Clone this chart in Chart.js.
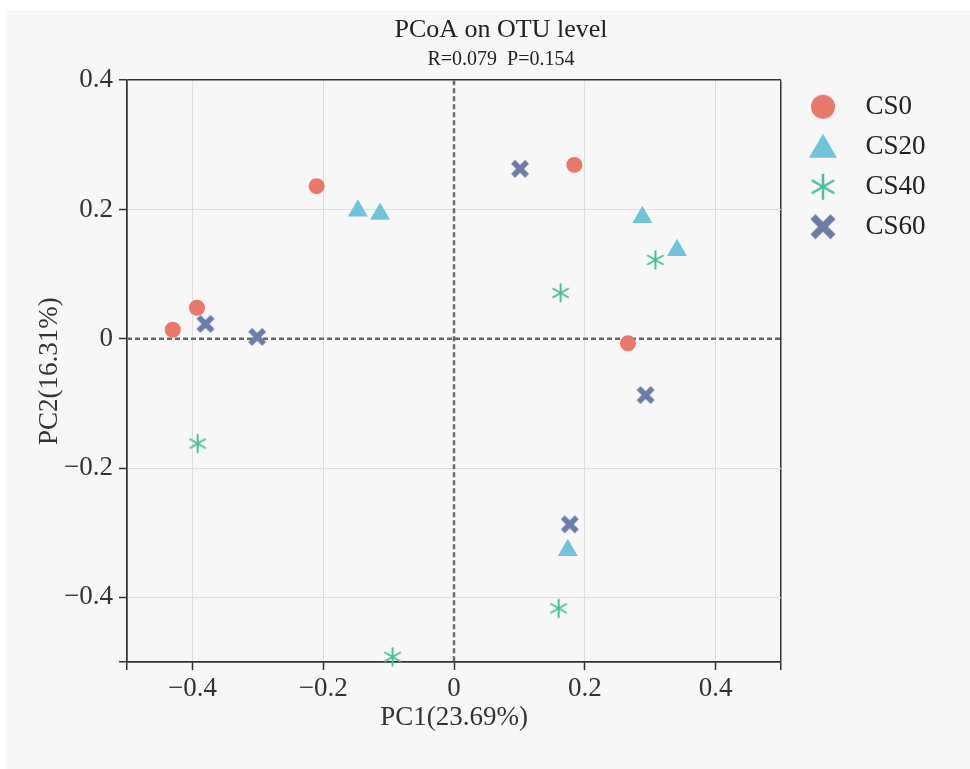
<!DOCTYPE html>
<html>
<head>
<meta charset="utf-8">
<script src="https://cdn.jsdelivr.net/npm/chart.js@4.4.1/dist/chart.umd.min.js"></script>
<style>
  html, body { margin: 0; padding: 0; background: #fff; }
  #panel { position: absolute; left: 6px; top: 10px; width: 964px; height: 759px; background: #f7f7f7; }
  #panel canvas { display: block; }
</style>
</head>
<body>
<div id="panel"><canvas id="pcoa" width="964" height="759"></canvas></div>
<script>
const grupos = ["CS0", "CS20", "CS40", "CS60"];
const colores = ["#E9776A", "#6FC4D8", "#4DBE9D", "#6B7CA6"];

const cs0X = [-0.430, -0.393, -0.210, 0.184, 0.266];
const cs0Y = [0.014, 0.048, 0.236, 0.269, -0.007];
const cs20X = [-0.147, -0.113, 0.288, 0.341, 0.174];
const cs20Y = [0.198, 0.193, 0.188, 0.137, -0.327];
const cs40X = [0.308, 0.163, -0.392, 0.160, -0.094];
const cs40Y = [0.122, 0.071, -0.162, -0.417, -0.492];
const cs60X = [-0.380, -0.301, 0.101, 0.293, 0.177];
const cs60Y = [0.023, 0.003, 0.263, -0.087, -0.287];

const ticksX = [-0.5, -0.4, -0.2, 0, 0.2, 0.4, 0.5];
const ticksY = [-0.5, -0.4, -0.2, 0, 0.2, 0.4];

const titulo = "PCoA on OTU level";
const subtitulo = "R=0.079  P=0.154";
const tituloX = "PC1(23.69%)";
const tituloY = "PC2(16.31%)";

const FUENTE = "'Liberation Serif', 'Times New Roman', serif";
const EJE = "#333";

function icono(size, dibujar) {
  const c = document.createElement("canvas");
  c.width = size; c.height = size;
  const g = c.getContext("2d");
  dibujar(g, size / 2);
  return c;
}

function asterisco(size, r, ancho, color) {
  return icono(size, (g, m) => {
    g.strokeStyle = color; g.lineWidth = ancho; g.lineCap = "butt";
    g.beginPath();
    [90, 30, 150].forEach((a) => {
      const dx = Math.cos(a * Math.PI / 180) * r, dy = Math.sin(a * Math.PI / 180) * r;
      g.moveTo(m - dx, m - dy); g.lineTo(m + dx, m + dy);
    });
    g.stroke();
  });
}

function cruz(size, r, ancho, color) {
  return icono(size, (g, m) => {
    g.strokeStyle = color; g.lineWidth = ancho; g.lineCap = "butt";
    g.beginPath();
    g.moveTo(m - r, m - r); g.lineTo(m + r, m + r);
    g.moveTo(m + r, m - r); g.lineTo(m - r, m + r);
    g.stroke();
  });
}

const iconosLeyenda = [
  icono(28, (g, m) => { g.fillStyle = colores[0]; g.beginPath(); g.arc(m, m, 12, 0, Math.PI * 2); g.fill(); }),
  icono(30, (g, m) => {
    g.fillStyle = colores[1]; g.beginPath();
    g.moveTo(m, m - 13); g.lineTo(m + 14, m + 11); g.lineTo(m - 14, m + 11); g.closePath(); g.fill();
  }),
  asterisco(30, 13, 2.5, colores[2]),
  cruz(30, 10, 7, colores[3]),
];

const puntos = (xs, ys) => xs.map((x, i) => ({ x, y: ys[i] }));

const datasets = [
  { label: grupos[0], data: puntos(cs0X, cs0Y), pointStyle: "circle", pointRadius: 8, backgroundColor: colores[0], borderWidth: 0 },
  { label: grupos[1], data: puntos(cs20X, cs20Y), pointStyle: "triangle", pointRadius: 11.5, backgroundColor: colores[1], borderWidth: 0 },
  { label: grupos[2], data: puntos(cs40X, cs40Y), pointStyle: asterisco(24, 9.5, 2, colores[2]), pointRadius: 10, backgroundColor: colores[2], borderWidth: 0 },
  { label: grupos[3], data: puntos(cs60X, cs60Y), pointStyle: cruz(24, 7, 5.5, colores[3]), pointRadius: 10, backgroundColor: colores[3], borderWidth: 0 },
].map((d) => ({ ...d, xAxisID: "x", yAxisID: "y", clip: false }));

const borde = (lista) => (c) => {
  const v = c.tick ? c.tick.value : null;
  if (v === 0) return "rgba(0,0,0,0)";
  if (v === lista[0] || v === lista[lista.length - 1]) return EJE;
  return "#dedede";
};

const etiqueta = (v) => {
  if (Math.abs(v) === 0.5) return "";
  if (v === 0) return "0";
  return v < 0 ? "\u2212" + Math.abs(v).toFixed(1) : v.toFixed(1);
};

const lineasCero = {
  id: "lineasCero",
  beforeDatasetsDraw(chart) {
    const { ctx, chartArea: a, scales: { x, y } } = chart;
    const px = x.getPixelForValue(0), py = y.getPixelForValue(0);
    ctx.save();
    ctx.strokeStyle = "#6a6a6a"; ctx.lineWidth = 2.5; ctx.setLineDash([5, 3]);
    ctx.beginPath();
    ctx.moveTo(a.left, py); ctx.lineTo(a.right, py);
    ctx.moveTo(px, a.top); ctx.lineTo(px, a.bottom);
    ctx.stroke();
    ctx.restore();
  },
};

Chart.defaults.font.family = FUENTE;
Chart.defaults.color = EJE;

new Chart(document.getElementById("pcoa"), {
  type: "scatter",
  data: { datasets },
  options: {
    responsive: false,
    animation: false,
    events: [],
    layout: { padding: { left: 26, right: 0, top: 0, bottom: 0 } },
    plugins: {
      title: { display: true, text: titulo, color: "#222", font: { size: 26, weight: "normal" }, padding: { top: 5, bottom: 0 } },
      subtitle: { display: true, text: subtitulo, color: "#222", font: { size: 20 }, padding: { top: 2, bottom: 8 } },
      legend: {
        position: "right",
        align: "start",
        fullSize: false,
        labels: {
          usePointStyle: true,
          pointStyleWidth: 58,
          padding: 13,
          color: "#222",
          font: { size: 27 },
          generateLabels(chart) {
            const items = Chart.defaults.plugins.legend.labels.generateLabels(chart);
            items.forEach((it, i) => { it.pointStyle = iconosLeyenda[i]; });
            return items;
          },
        },
      },
      tooltip: { enabled: false },
    },
    scales: {
      x: {
        type: "linear",
        min: -0.5,
        max: 0.5,
        afterBuildTicks: (s) => { s.ticks = ticksX.map((value) => ({ value })); },
        afterFit: (s) => { s.height = 107; },
        ticks: { autoSkip: false, maxRotation: 0, padding: 3, font: { size: 27 }, color: EJE, callback: etiqueta },
        grid: { color: borde(ticksX), lineWidth: (c) => (c.tick && Math.abs(c.tick.value) === 0.5 ? 1.5 : 1), tickColor: EJE, tickLength: 8, tickWidth: 1.5 },
        border: { color: EJE, width: 1.5 },
        title: { display: true, text: tituloX, color: EJE, font: { size: 27 }, padding: { top: 0, bottom: 35 } },
      },
      y: {
        type: "linear",
        min: -0.5,
        max: 0.4,
        afterBuildTicks: (s) => { s.ticks = ticksY.map((value) => ({ value })); },
        afterFit: (s) => { s.width = 95; },
        ticks: { autoSkip: false, padding: 6, font: { size: 27 }, color: EJE, callback: etiqueta },
        grid: { color: borde(ticksY), lineWidth: (c) => (c.tick && (c.tick.value === 0.4 || c.tick.value === -0.5) ? 1.5 : 1), tickColor: EJE, tickLength: 8, tickWidth: 1.5 },
        border: { color: EJE, width: 1.5 },
        title: { display: true, text: tituloY, color: EJE, font: { size: 27 }, padding: { top: 2, bottom: 0 } },
      },
      relleno: {
        type: "linear",
        axis: "y",
        position: "right",
        weight: 5000,
        afterFit: (s) => { s.width = Math.max(0, 189 - ((s.chart.legend && s.chart.legend.width) || 0)); },
        ticks: { display: false },
        grid: { display: false },
        border: { display: false },
      },
    },
  },
  plugins: [lineasCero],
});
</script>
</body>
</html>
